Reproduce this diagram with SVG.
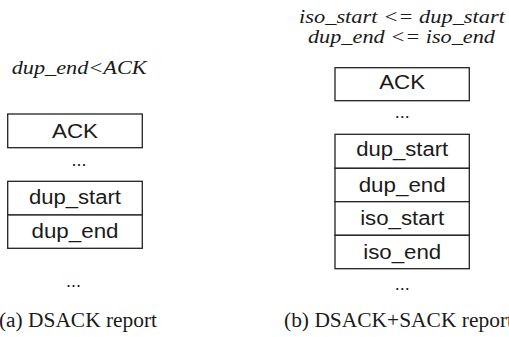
<svg xmlns="http://www.w3.org/2000/svg" width="509" height="337" viewBox="0 0 509 337">
  <style>
    .box { fill: #ffffff; stroke: #222222; stroke-width: 1.3; }
    .lbl { font-family: "Liberation Sans", Arial, sans-serif; font-size: 20px; fill: #1a1a1a; text-anchor: middle; }
    .dots { font-family: "Liberation Sans", Arial, sans-serif; font-size: 18px; fill: #1a1a1a; text-anchor: middle; }
    .cond { font-family: "Liberation Serif", "Times New Roman", serif; font-style: italic; font-size: 19px; fill: #1a1a1a; }
    .cond2 { font-family: "Liberation Serif", "Times New Roman", serif; font-style: italic; font-size: 18px; fill: #1a1a1a; }
    .cap { font-family: "Liberation Serif", "Times New Roman", serif; font-size: 20px; fill: #1a1a1a; }
  </style>
  <rect width="509" height="337" fill="#ffffff"/>

  <!-- (a) DSACK report -->
  <g id="cond-a">
    <text class="cond" x="11.7" y="74.3" textLength="135" lengthAdjust="spacingAndGlyphs">dup_end&lt;ACK</text>
  </g>
  <g id="a-ack">
    <rect class="box" x="7.7" y="114" width="134.6" height="33.7"/>
    <text class="lbl" x="75" y="137.7" textLength="46" lengthAdjust="spacingAndGlyphs">ACK</text>
  </g>
  <g id="a-dots1">
    <text class="dots" x="79" y="165.7">...</text>
  </g>
  <g id="a-dup-start">
    <rect class="box" x="7.7" y="181.3" width="134.6" height="33.7"/>
    <text class="lbl" x="75" y="204.3" textLength="92" lengthAdjust="spacingAndGlyphs">dup_start</text>
  </g>
  <g id="a-dup-end">
    <rect class="box" x="7.7" y="215" width="134.6" height="33.3"/>
    <text class="lbl" x="75" y="238" textLength="87" lengthAdjust="spacingAndGlyphs">dup_end</text>
  </g>
  <g id="a-dots2">
    <text class="dots" x="73.5" y="287">...</text>
  </g>
  <g id="caption-a">
    <text class="cap" x="-1" y="327.3" textLength="158" lengthAdjust="spacingAndGlyphs">(a) DSACK report</text>
  </g>

  <!-- (b) DSACK+SACK report -->
  <g id="cond-b">
    <text class="cond2" x="299" y="22.5" textLength="206" lengthAdjust="spacingAndGlyphs">iso_start &lt;= dup_start</text>
    <text class="cond2" x="308" y="42.5" textLength="187" lengthAdjust="spacingAndGlyphs">dup_end &lt;= iso_end</text>
  </g>
  <g id="b-ack">
    <rect class="box" x="335" y="67.7" width="134.3" height="33"/>
    <text class="lbl" x="402.2" y="89.3" textLength="46" lengthAdjust="spacingAndGlyphs">ACK</text>
  </g>
  <g id="b-dots1">
    <text class="dots" x="402.2" y="118.3">...</text>
  </g>
  <g id="b-dup-start">
    <rect class="box" x="335" y="134.3" width="134.3" height="34"/>
    <text class="lbl" x="402.2" y="156.3" textLength="92" lengthAdjust="spacingAndGlyphs">dup_start</text>
  </g>
  <g id="b-dup-end">
    <rect class="box" x="335" y="168.3" width="134.3" height="33.4"/>
    <text class="lbl" x="402.2" y="192.3" textLength="87" lengthAdjust="spacingAndGlyphs">dup_end</text>
  </g>
  <g id="b-iso-start">
    <rect class="box" x="335" y="201.7" width="134.3" height="33.6"/>
    <text class="lbl" x="402.2" y="225.3" textLength="84" lengthAdjust="spacingAndGlyphs">iso_start</text>
  </g>
  <g id="b-iso-end">
    <rect class="box" x="335" y="235.3" width="134.3" height="33.4"/>
    <text class="lbl" x="402.2" y="259.3" textLength="78" lengthAdjust="spacingAndGlyphs">iso_end</text>
  </g>
  <g id="b-dots2">
    <text class="dots" x="402.2" y="290">...</text>
  </g>
  <g id="caption-b">
    <text class="cap" x="284" y="327.3" textLength="229" lengthAdjust="spacingAndGlyphs">(b) DSACK+SACK report</text>
  </g>
</svg>
